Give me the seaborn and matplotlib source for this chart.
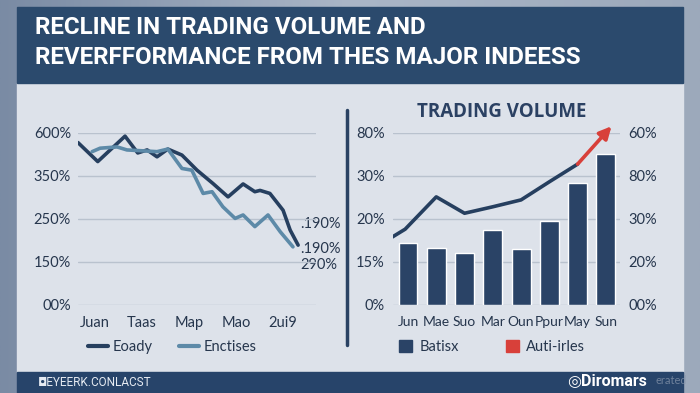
import numpy as np
import matplotlib
matplotlib.use('Agg')
import matplotlib.pyplot as plt
from matplotlib.colors import LinearSegmentedColormap
from matplotlib.patches import Rectangle, Patch
from matplotlib.lines import Line2D
import seaborn as sns

# Left chart: performance lines (y in gridline units, bottom=0 .. top=4)
perf_ticks = ['00%', '150%', '250%', '350%', '600%']
perf_months = ['Juan', 'Taas', 'Map', 'Mao', '2ui9']
eoady_x = [-0.36, 0.06, 0.64, 0.91, 1.11, 1.32, 1.55, 1.85, 2.17, 2.51, 2.83, 3.15, 3.40, 3.51, 3.72, 4.0, 4.15, 4.32]
eoady_y = [3.77, 3.33, 3.92, 3.53, 3.60, 3.44, 3.62, 3.48, 3.13, 2.82, 2.51, 2.81, 2.63, 2.66, 2.59, 2.20, 1.74, 1.39]
enct_x = [-0.06, 0.11, 0.47, 0.68, 1.32, 1.55, 1.85, 2.06, 2.30, 2.49, 2.72, 2.98, 3.15, 3.40, 3.68, 3.94, 4.21]
enct_y = [3.56, 3.64, 3.67, 3.60, 3.56, 3.62, 3.17, 3.13, 2.59, 2.63, 2.28, 2.01, 2.09, 1.82, 2.09, 1.70, 1.35]
end_labels = ['.190%', '.190%', '290%']

# Right chart: trading volume
vol_months = ['Jun', 'Mae', 'Suo', 'Mar', 'Oun', 'Ppur', 'May', 'Sun']
vol_bars = [1.45, 1.33, 1.20, 1.75, 1.31, 1.94, 2.84, 3.50]
trend_x = [-0.55, -0.1, 1, 2, 3, 4, 5, 6]
trend_y = [1.58, 1.76, 2.51, 2.13, 2.28, 2.44, 2.86, 3.27]
arrow_tip = (7.2, 4.15)
left_ticks = ['0%', '15%', '20%', '30%', '80%']
right_ticks = ['00%', '20%', '30%', '80%', '60%']

navy = '#263f5f'
steel = '#5d8aa8'
bar_col = '#2a4366'
red = '#d8403a'
txt = '#26364d'
grid_col = '#b9c2ce'

sns.set_style('white')
plt.rcParams['font.family'] = ['Lato', 'DejaVu Sans']

fig = plt.figure(figsize=(7, 3.93), dpi=100)

def fx(px):
    return px / 700

def fy(py):
    return 1 - py / 393

# background
bg = fig.add_axes([0, 0, 1, 1], zorder=-10)
bg.set_xlim(0, 700)
bg.set_ylim(393, 0)
bg.axis('off')
cmap = LinearSegmentedColormap.from_list('bg', ['#7a8ba4', '#aab6c7', '#9ca9bb'])
bg.imshow(np.linspace(0, 1, 256)[None, :], extent=[0, 700, 393, 0], cmap=cmap, aspect='auto')
bg.add_patch(Rectangle((17, 83), 666, 289, color='#dde2ea'))
bg.add_patch(Rectangle((17, 7), 666, 76, color='#2b4a6d'))
bg.add_patch(Rectangle((17, 372), 666, 21, color='#27446a'))
bg.plot([347, 347], [110, 345], color='#2a4263', lw=2.5)

bg.text(35, 28, 'RECLINE IN TRADING VOLUME AND', color='white', fontsize=17.4,
        fontweight='bold', family='Roboto', va='center')
bg.text(35, 58, 'REVERFFORMANCE FROM THES MAJOR INDEESS', color='white', fontsize=17.4,
        fontweight='bold', family='Roboto', va='center')
bg.text(38, 382, '◘EYEERK.CONLACST', color='#e6ebf2', fontsize=8.5,
        family=['Roboto', 'DejaVu Sans'], va='center')
bg.text(567, 381, '◎Diromars', color='white', fontsize=11.5, fontweight='bold',
        family=['Roboto', 'DejaVu Sans'], va='center')
bg.text(655, 381, 'erated', color='#8d9bb0', fontsize=8, va='center', alpha=0.7)

# left chart
ax1 = fig.add_axes([fx(78), fy(305), (316 - 78) / 700, (305 - 132.7) / 393])
ax1.set_facecolor('none')
sns.lineplot(x=eoady_x, y=eoady_y, ax=ax1, color=navy, lw=2.6, sort=False,
             solid_joinstyle='round', solid_capstyle='round')
sns.lineplot(x=enct_x, y=enct_y, ax=ax1, color=steel, lw=2.6, sort=False,
             solid_joinstyle='round', solid_capstyle='round')
ax1.set_xlim(-0.36, 4.70)
ax1.set_ylim(0, 4)
ax1.set_yticks(range(5), perf_ticks)
ax1.set_xticks(range(5), perf_months)
ax1.grid(axis='y', color=grid_col, lw=1)
ax1.set_axisbelow(True)
for s in ax1.spines.values():
    s.set_visible(False)
ax1.tick_params(length=0, labelsize=10.5, labelcolor=txt)
ax1.tick_params(axis='y', pad=5)
ax1.tick_params(axis='x', pad=8)
for lbl, py in zip(end_labels, [224, 249, 265]):
    bg.text(300, py, lbl, color=txt, fontsize=10.5, va='center')
ax1.legend(handles=[Line2D([], [], color=navy, lw=3), Line2D([], [], color=steel, lw=3)],
           labels=['Eoady', 'Enctises'], loc='center', bbox_to_anchor=(fx(172), fy(347)),
           bbox_transform=fig.transFigure, ncol=2, frameon=False, fontsize=10.5,
           handlelength=1.4, columnspacing=1.8, handletextpad=0.3, labelcolor=txt)

# right chart
ax2 = fig.add_axes([fx(393), fy(305), (620 - 393) / 700, (305 - 132.7) / 393])
ax2.set_facecolor('none')
sns.barplot(x=vol_months, y=vol_bars, ax=ax2, color=bar_col, width=0.67, saturation=1)
sns.lineplot(x=trend_x, y=trend_y, ax=ax2, color=navy, lw=2.6, sort=False,
             solid_joinstyle='round')
ax2.annotate('', xy=arrow_tip, xytext=(trend_x[-1], trend_y[-1]), annotation_clip=False,
             arrowprops=dict(arrowstyle='-|>', color=red, lw=2.6, mutation_scale=18,
                             shrinkA=0, shrinkB=0))
ax2.set_xlim(-0.53, 7.5)
ax2.set_ylim(0, 4)
ax2.set_yticks(range(5), left_ticks)
ax2.grid(axis='y', color=grid_col, lw=1)
ax2.set_axisbelow(True)
for s in ax2.spines.values():
    s.set_visible(False)
ax2.tick_params(length=0, labelsize=10.5, labelcolor=txt)
ax2.tick_params(axis='x', labelsize=10, pad=8)
ax2.tick_params(axis='y', pad=6)
ax2.set_xlabel('')
ax2.set_ylabel('')

ax3 = ax2.twinx()
ax3.set_ylim(0, 4)
ax3.set_yticks(range(5), right_ticks)
for s in ax3.spines.values():
    s.set_visible(False)
ax3.tick_params(length=0, labelsize=10.5, labelcolor=txt, pad=6)

bg.text(502, 112, 'TRADING VOLUME', color='#2b4163', fontsize=13.5, fontweight='bold',
        ha='center', va='center', family=['Open Sans', 'DejaVu Sans'])

ax2.legend(handles=[Patch(color=bar_col), Patch(color=red)], labels=['Batisx', 'Auti-irles'],
           loc='center', bbox_to_anchor=(fx(492), fy(347)), bbox_transform=fig.transFigure,
           ncol=2, frameon=False, fontsize=10.5, handlelength=0.9, handleheight=0.9,
           columnspacing=3.2, handletextpad=0.5, labelcolor=txt)

fig.savefig('out.png', dpi=100)
